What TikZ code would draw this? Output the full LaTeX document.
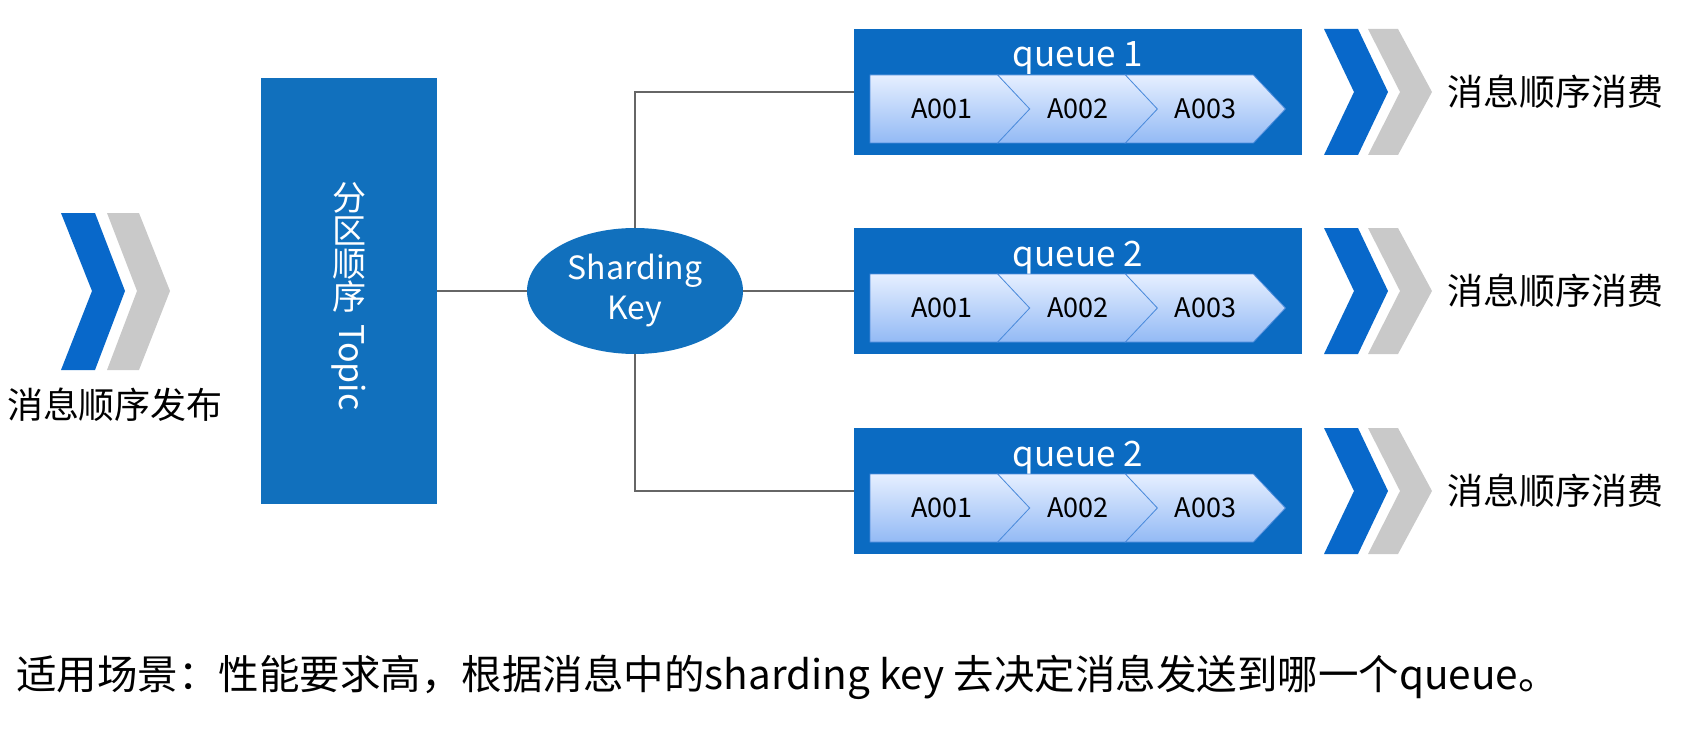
\documentclass[tikz,border=0pt]{standalone}
\usepackage{fontspec}
\setmainfont{Noto Sans CJK SC}
\usetikzlibrary{shapes.geometric}
\definecolor{topicblue}{HTML}{1170BD}
\definecolor{qblue}{HTML}{0B6BC2}
\definecolor{chevblue}{HTML}{0868CA}
\definecolor{chevgray}{HTML}{C9C9C9}
\definecolor{linkgray}{HTML}{666666}
\definecolor{segtop}{HTML}{E6EFFF}
\definecolor{segbot}{HTML}{93BAF5}
\definecolor{segline}{HTML}{4D8CDC}

\begin{document}
\begin{tikzpicture}[x=1pt,y=-1pt,
	topicbox/.style={fill=topicblue,minimum width=176pt,minimum height=426pt,inner sep=0pt},
	keynode/.style={ellipse,fill=topicblue,minimum width=216pt,minimum height=126pt,inner sep=0pt,
		text=white,align=center,font=\fontsize{32}{40}\selectfont},
	qbox/.style={fill=qblue,minimum width=448pt,minimum height=126pt,inner sep=0pt},
	qtitle/.style={text=white,inner sep=0pt,anchor=base,font=\fontsize{35}{40}\selectfont},
	seg/.style={top color=segtop,bottom color=segbot,draw=segline,line width=0.8pt},
	aitem/.style={inner sep=0pt,font=\fontsize{27}{32}\selectfont},
	lbl/.style={inner sep=0pt,font=\fontsize{36}{42}\selectfont},
	vtext/.style={text=white,inner sep=0pt,align=center,font=\fontsize{34}{33}\selectfont},
	link/.style={draw=linkgray,line width=1.3pt}]
	\useasboundingbox (0,0) rectangle (1690,733);

	% publisher
	\fill[chevblue] (61,213) -- (95,213) -- (125,291) -- (95,370) -- (61,370) -- (92,291) -- cycle;
	\fill[chevgray] (107,213) -- (139,213) -- (170,291) -- (139,370) -- (107,370) -- (137,291) -- cycle;
	\node[lbl] (pub) at (115,405) {消息顺序发布};

	% topic
	\node[topicbox] (topic) at (349,291) {};
	\node[vtext] (topiccjk) at (349,247) {分\\区\\顺\\序};
	\node[vtext,rotate=-90,anchor=west] (topicword) at ([yshift=-12pt]topiccjk.south) {Topic};

	\node[keynode] (key) at (635,291) {Sharding\\Key};

	% queues
	\foreach \i/\y/\nm in {1/92/1,2/291/2,3/491/2}{
		\node[qbox] (q\i) at (1078,\y) {};
		\node[qtitle] (t\i) at (1078,\y-25) {queue \nm};
		\foreach \k/\n/\t in {0/0/A001,1/32/A002,2/32/A003}{
			\pgfmathsetmacro\x{870+127.7*\k}
			\path[seg] (\x,\y-17) -- (\x+128,\y-17) -- (\x+160,\y+17) -- (\x+128,\y+51)
				-- (\x,\y+51) -- (\x+\n,\y+17) -- cycle;
			\node[aitem] (a\i\k) at (\x+72+\n/4,\y+17) {\t};
		}
		\fill[chevblue] (1324,\y-63) -- (1358,\y-63) -- (1388,\y) -- (1358,\y+63) -- (1324,\y+63) -- (1354,\y) -- cycle;
		\fill[chevgray] (1368,\y-63) -- (1398,\y-63) -- (1432,\y) -- (1398,\y+63) -- (1368,\y+63) -- (1400,\y) -- cycle;
		\node[lbl] (c\i) at (1555,\y) {消息顺序消费};
	}

	% connectors
	\draw[link] (topic.east) -- (key.west);
	\draw[link] (key.north) |- (q1.west);
	\draw[link] (key.east) -- (q2.west);
	\draw[link] (key.south) |- (q3.west);

	\node[lbl,anchor=west,font=\fontsize{40.5}{48}\selectfont] (note) at (16,677)
		{适用场景：性能要求高，根据消息中的sharding key 去决定消息发送到哪一个queue。};
\end{tikzpicture}
\end{document}
